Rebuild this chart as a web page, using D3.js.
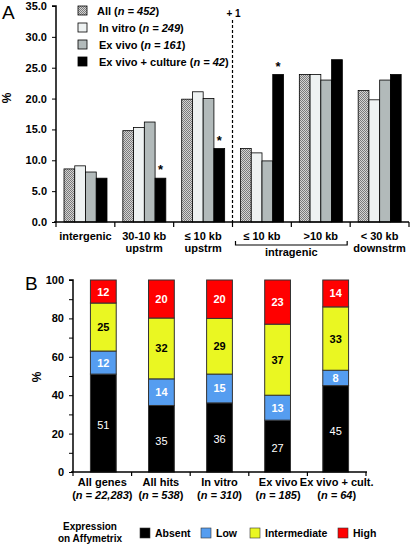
<!DOCTYPE html>
<html><head><meta charset="utf-8">
<script src="https://cdn.jsdelivr.net/npm/d3@7"></script>
<style>body{margin:0;background:#fff}text{font-family:"Liberation Sans",Arial,sans-serif}</style>
</head><body>
<script>
// ---------- Panel A data ----------
const catsA = ["intergenic","30-10 kb|upstrm","≤ 10 kb|upstrm","≤ 10 kb","›10 kb","< 30 kb|downstrm"];
const seriesA = ["All","In vitro","Ex vivo","Ex vivo + culture"];
const seriesAn = ["452","249","161","42"];
const valAll     = [8.6, 14.8, 19.9, 11.9, 23.9, 21.3];
const valInVitro = [9.1, 15.3, 21.1, 11.2, 23.9, 19.8];
const valExVivo  = [8.1, 16.2, 20.0, 9.9, 23.0, 23.0];
const valExCult  = [7.1, 7.1, 11.9, 23.9, 26.3, 23.9];
const starsA = [false, true, true, true, false, false];
const ticksA = [0,5,10,15,20,25,30,35];

// ---------- Panel B data ----------
const catsB = ["All genes","All hits","In vitro","Ex vivo","Ex vivo + cult."];
const catsBn = ["22,283","538","310","185","64"];
const levels = ["Absent","Low","Intermediate","High"];
const absent = [51,35,36,27,45];
const low = [12,14,15,13,8];
const intermediate = [25,32,29,37,33];
const high = [12,20,20,23,14];
const ticksB = [0,20,40,60,80,100];

const W=410,H=544;
const svg=d3.select("body").append("svg").attr("width",W).attr("height",H);
const defs=svg.append("defs");
const pat=defs.append("pattern").attr("id","chk").attr("width",2).attr("height",2).attr("patternUnits","userSpaceOnUse");
pat.append("rect").attr("width",2).attr("height",2).attr("fill","#d4d4d4");
pat.append("rect").attr("width",1).attr("height",1).attr("fill","#7a7a7a");
pat.append("rect").attr("x",1).attr("y",1).attr("width",1).attr("height",1).attr("fill","#7a7a7a");
const fillsA=["url(#chk)","#eef2f2","#b2baba","#000"];

// ===== Panel A =====
const xA=d3.scaleBand().domain(catsA).range([56,409]);
const xA1=d3.scaleBand().domain(seriesA).range([8,51]);
const yA=d3.scaleLinear().domain([0,35]).range([222,6]);
const gA=svg.append("g");
const dataA=[valAll,valInVitro,valExVivo,valExCult];
catsA.forEach((c,i)=>{
  seriesA.forEach((s,j)=>{
    gA.append("rect").attr("x",xA(c)+xA1(s)).attr("y",yA(dataA[j][i]))
      .attr("width",xA1.bandwidth()).attr("height",yA(0)-yA(dataA[j][i]))
      .attr("fill",fillsA[j]).attr("stroke","#000").attr("stroke-width",0.8);
  });
  if(starsA[i]) gA.append("text").attr("x",xA(c)+xA1(seriesA[3])+xA1.bandwidth()/2)
     .attr("y",yA(valExCult[i])-4).attr("text-anchor","middle").attr("font-size",13).attr("font-weight","bold").text("*");
});
const axA=gA.append("g").attr("transform","translate(56,0)")
  .call(d3.axisLeft(yA).tickValues(ticksA).tickFormat(d3.format(".1f")).tickSize(4));
axA.select(".domain").attr("stroke-width",1.5).attr("d","M-4,6H0V222");
axA.selectAll("text").attr("font-size",11).attr("font-weight","bold").attr("fill","#000").attr("x",-9);
gA.append("line").attr("x1",54).attr("x2",409).attr("y1",222).attr("y2",222).attr("stroke","#000").attr("stroke-width",1.5);
xA.domain().concat(["end"]).forEach((c,i)=>{
  const x=i<catsA.length?xA(c):409;
  gA.append("line").attr("x1",x).attr("x2",x).attr("y1",222).attr("y2",227).attr("stroke","#000").attr("stroke-width",1.2);
});
catsA.forEach(c=>{
  const parts=c.replace("›",">").split("|");
  const t=gA.append("text").attr("x",xA(c)+xA.bandwidth()/2).attr("y",240).attr("text-anchor","middle")
    .attr("font-size",11).attr("font-weight","bold");
  parts.forEach((p,k)=>t.append("tspan").attr("x",xA(c)+xA.bandwidth()/2).attr("dy",k?12:0).text(p));
});
// intragenic bracket
const bx1=xA(catsA[3])+3,bx2=xA(catsA[4])+xA.bandwidth()-3;
gA.append("path").attr("d",`M${bx1},241V245H${bx2}V241`).attr("fill","none").attr("stroke","#000").attr("stroke-width",1.2);
gA.append("text").attr("x",(bx1+bx2)/2).attr("y",256).attr("text-anchor","middle").attr("font-size",11).attr("font-weight","bold").text("intragenic");
// dashed line
gA.append("line").attr("x1",xA(catsA[3])).attr("x2",xA(catsA[3])).attr("y1",20).attr("y2",222)
  .attr("stroke","#000").attr("stroke-width",1.2).attr("stroke-dasharray","3,2");
gA.append("text").attr("x",xA(catsA[3])+1).attr("y",17).attr("text-anchor","middle").attr("font-size",10).attr("font-weight","bold").text("+ 1");
gA.append("text").attr("x",2).attr("y",19).attr("font-size",19).text("A");
gA.append("text").attr("transform","translate(11,98) rotate(-90)").attr("text-anchor","middle").attr("font-size",12).attr("font-weight","bold").text("%");
// legend A
const legY=[11,28,45,62];
seriesA.forEach((s,j)=>{
  gA.append("rect").attr("x",78).attr("y",legY[j]-5).attr("width",9).attr("height",9).attr("fill",fillsA[j]).attr("stroke","#000").attr("stroke-width",0.8);
  const t=gA.append("text").attr("x",j?99:97).attr("y",legY[j]+4).attr("font-size",11).attr("font-weight","bold");
  t.append("tspan").text(s+" (");
  t.append("tspan").attr("font-style","italic").text("n = "+seriesAn[j]);
  t.append("tspan").text(")");
});

// ===== Panel B =====
const xB=d3.scaleBand().domain(catsB).range([73,366]).paddingInner(0.556).paddingOuter(0.3);
const yB=d3.scaleLinear().domain([0,100]).range([472,280]);
const tableB=catsB.map((c,i)=>({cat:c,Absent:absent[i],Low:low[i],Intermediate:intermediate[i],High:high[i]}));
const stack=d3.stack().keys(levels).offset(d3.stackOffsetExpand)(tableB);
const colB={Absent:"#000",Low:"#559df0",Intermediate:"#eaf722",High:"#ff0000"};
const txtB={Absent:"#fff",Low:"#fff",Intermediate:"#000",High:"#fff"};
const gB=svg.append("g");
stack.forEach(layer=>{
  layer.forEach((d,i)=>{
    const y0=yB(d[0]*100),y1=yB(d[1]*100);
    gB.append("rect").attr("x",xB(catsB[i])).attr("y",y1).attr("width",xB.bandwidth()).attr("height",y0-y1)
      .attr("fill",colB[layer.key]).attr("stroke","#333").attr("stroke-width",1);
    let ty=(y0+y1)/2+4;
    if(layer.key==="Absent") ty=(y0+y1)/2+6;
    gB.append("text").attr("x",xB(catsB[i])+xB.bandwidth()/2).attr("y",ty).attr("text-anchor","middle")
      .attr("font-size",11).attr("font-weight",layer.key==="Absent"?"normal":"bold").attr("fill",txtB[layer.key])
      .text(tableB[i][layer.key]);
  });
});
const axB=gB.append("g").attr("transform","translate(73,0)")
  .call(d3.axisLeft(yB).tickValues(d3.range(0,101,10)).tickFormat(d=>d%20===0?d:"").tickSize(4));
axB.select(".domain").attr("stroke-width",1.5).attr("d","M-4,280H0V472");
axB.selectAll("text").attr("font-size",11).attr("font-weight","bold").attr("fill","#000").attr("x",-9);
gB.append("line").attr("x1",71).attr("x2",367).attr("y1",472).attr("y2",472).attr("stroke","#000").attr("stroke-width",1.5);
const bandB=(366-73)/5;
d3.range(6).forEach(i=>gB.append("line").attr("x1",73+i*bandB).attr("x2",73+i*bandB).attr("y1",472).attr("y2",476).attr("stroke","#000").attr("stroke-width",1.2));
catsB.forEach((c,i)=>{
  const cx=73+bandB*(i+0.5);
  gB.append("text").attr("x",cx).attr("y",486).attr("text-anchor","middle").attr("font-size",11).attr("font-weight","bold").text(c);
  const t=gB.append("text").attr("x",cx).attr("y",499).attr("text-anchor","middle").attr("font-size",11).attr("font-weight","bold");
  t.append("tspan").text("(");
  t.append("tspan").attr("font-style","italic").text("n = "+catsBn[i]);
  t.append("tspan").text(")");
});
gB.append("text").attr("x",25).attr("y",290).attr("font-size",19).text("B");
gB.append("text").attr("transform","translate(41,377) rotate(-90)").attr("text-anchor","middle").attr("font-size",12).attr("font-weight","bold").text("%");
// legend B
gB.append("text").attr("x",90).attr("y",530).attr("text-anchor","middle").attr("font-size",10).attr("font-weight","bold").text("Expression");
gB.append("text").attr("x",90).attr("y",542).attr("text-anchor","middle").attr("font-size",10).attr("font-weight","bold").text("on Affymetrix");
const legBx=[140,201,250,338];
levels.forEach((l,k)=>{
  gB.append("rect").attr("x",legBx[k]).attr("y",528).attr("width",10).attr("height",10).attr("fill",colB[l]).attr("stroke","#333").attr("stroke-width",0.6);
  gB.append("text").attr("x",legBx[k]+15).attr("y",537).attr("font-size",10.5).attr("font-weight","bold").text(l);
});
</script>
</body></html>
